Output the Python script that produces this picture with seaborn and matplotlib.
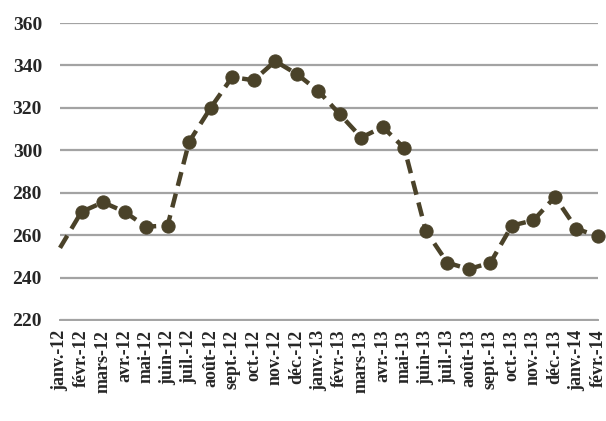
import matplotlib
matplotlib.use('Agg')
import matplotlib.pyplot as plt
import pandas as pd
import seaborn as sns

months = ['janv.-12', 'févr.-12', 'mars-12', 'avr.-12', 'mai-12', 'juin-12',
          'juil.-12', 'août-12', 'sept.-12', 'oct.-12', 'nov.-12', 'déc.-12',
          'janv.-13', 'févr.-13', 'mars-13', 'avr.-13', 'mai-13', 'juin-13',
          'juil.-13', 'août-13', 'sept.-13', 'oct.-13', 'nov.-13', 'déc.-13',
          'janv.-14', 'févr.-14']
values = [254, 271, 275.5, 271, 264, 264.5, 304, 320, 334.5, 333, 342, 336,
          328, 317, 306, 311, 301, 262, 247, 244, 247, 264.5, 267, 278,
          263, 259.5]
yticks = [220, 240, 260, 280, 300, 320, 340, 360]

df = pd.DataFrame({'idx': range(len(months)), 'mois': months, 'valeur': values})

sns.set_style('white')
plt.rcParams['font.family'] = ['Liberation Serif', 'DejaVu Serif']

fig = plt.figure(figsize=(6.06, 4.21), dpi=100)
ax = fig.add_axes([60 / 606, 1 - 320 / 421, 538 / 606, 297 / 421])

line_color = '#4a4229'
sns.lineplot(data=df, x='idx', y='valeur', ax=ax, color=line_color,
             linewidth=3.2, linestyle=(0, (3.2, 1.8)), marker='o',
             markersize=9.5, markeredgecolor=line_color, zorder=3,
             markevery=list(range(1, len(months))))

ax.set_xlim(0, len(months) - 1)
ax.set_ylim(220, 360)
ax.set_yticks(yticks)
ax.set_xticks(df['idx'])
ax.set_xticklabels(months, rotation=90, fontsize=13, fontweight='bold',
                   va='top', ha='center')
ax.set_yticklabels([str(v) for v in yticks], fontsize=14, fontweight='bold')

ax.yaxis.grid(True, color='#a3a3a3', linewidth=1.6)
ax.set_axisbelow(True)
for s in ['left', 'right', 'top']:
    ax.spines[s].set_visible(False)
ax.spines['bottom'].set_color('#a3a3a3')
ax.spines['bottom'].set_linewidth(1.4)
ax.tick_params(axis='y', length=0, pad=13)
ax.tick_params(axis='x', length=5, width=1, color='#a3a3a3',
               direction='out', pad=2)
ax.set_xlabel('')
ax.set_ylabel('')
for ln in ax.lines:
    ln.set_clip_on(False)

fig.savefig('out.png', dpi=100)
